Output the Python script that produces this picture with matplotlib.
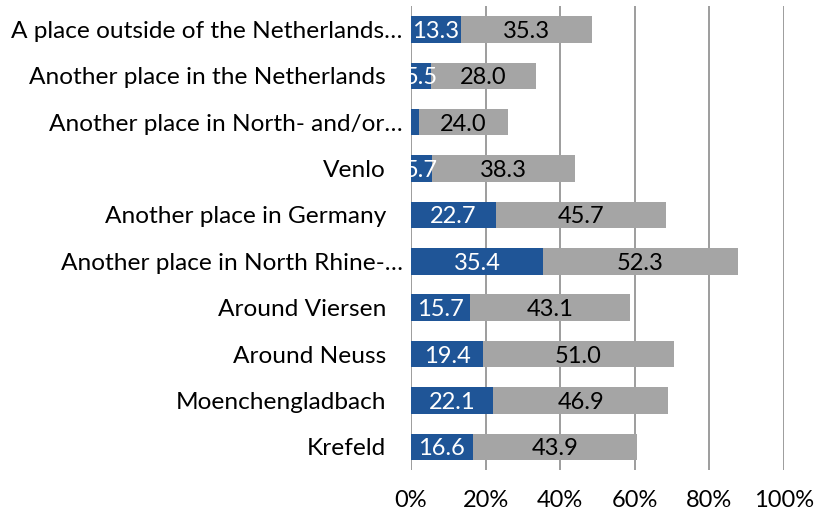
import matplotlib.pyplot as plt
from matplotlib.transforms import offset_copy

plt.rcParams['font.family'] = ['Lato', 'DejaVu Sans']

# categories listed top to bottom as in the chart
places = [
    "A place outside of the Netherlands\u2026",
    "Another place in the Netherlands",
    "Another place in North- and/or\u2026",
    "Venlo",
    "Another place in Germany",
    "Another place in North Rhine-\u2026",
    "Around Viersen",
    "Around Neuss",
    "Moenchengladbach",
    "Krefeld",
]
blue_vals = [13.3, 5.5, 2.1, 5.7, 22.7, 35.4, 15.7, 19.4, 22.1, 16.6]
gray_vals = [35.3, 28.0, 24.0, 38.3, 45.7, 52.3, 43.1, 51.0, 46.9, 43.9]
show_blue_label = [True, True, False, True, True, True, True, True, True, True]

blue = "#1F5597"
gray = "#A5A5A5"

fig = plt.figure(figsize=(8.17, 5.16), dpi=100)
ax = fig.add_axes([0.503, 0.089, 0.4565, 0.899])

n = len(places)
ypos = [n - 1 - i for i in range(n)]

ax.barh(ypos, blue_vals, height=0.57, color=blue, zorder=3)
ax.barh(ypos, gray_vals, left=blue_vals, height=0.57, color=gray, zorder=3)

for y, b, g, show in zip(ypos, blue_vals, gray_vals, show_blue_label):
    if show:
        ax.text(b / 2, y, f"{b:.1f}", ha="center", va="center_baseline",
                color="white", fontsize=17, zorder=4)
    ax.text(b + g / 2, y, f"{g:.1f}", ha="center", va="center_baseline",
            color="black", fontsize=17, zorder=4)

# category labels: truncated ones sit closer to the axis, like Excel does
trans = ax.get_yaxis_transform()
for y, label in zip(ypos, places):
    gap = 6 if label.endswith("\u2026") else 18
    t = offset_copy(trans, fig=fig, x=-gap, y=0, units="points")
    ax.text(0, y, label, transform=t, ha="right", va="center_baseline",
            fontsize=17.6)

ax.set_xlim(0, 100)
ax.set_ylim(-0.5, 9.5)
ax.set_xticks([0, 20, 40, 60, 80, 100])
ax.set_xticklabels(["0%", "20%", "40%", "60%", "80%", "100%"], fontsize=17)
ax.set_yticks([])
ax.tick_params(axis="both", length=0)
ax.tick_params(axis="x", pad=14)
ax.grid(axis="x", color="#8C8C8C", linewidth=1.2, zorder=0)
for s in ax.spines.values():
    s.set_visible(False)

fig.savefig("out.png", dpi=100)
